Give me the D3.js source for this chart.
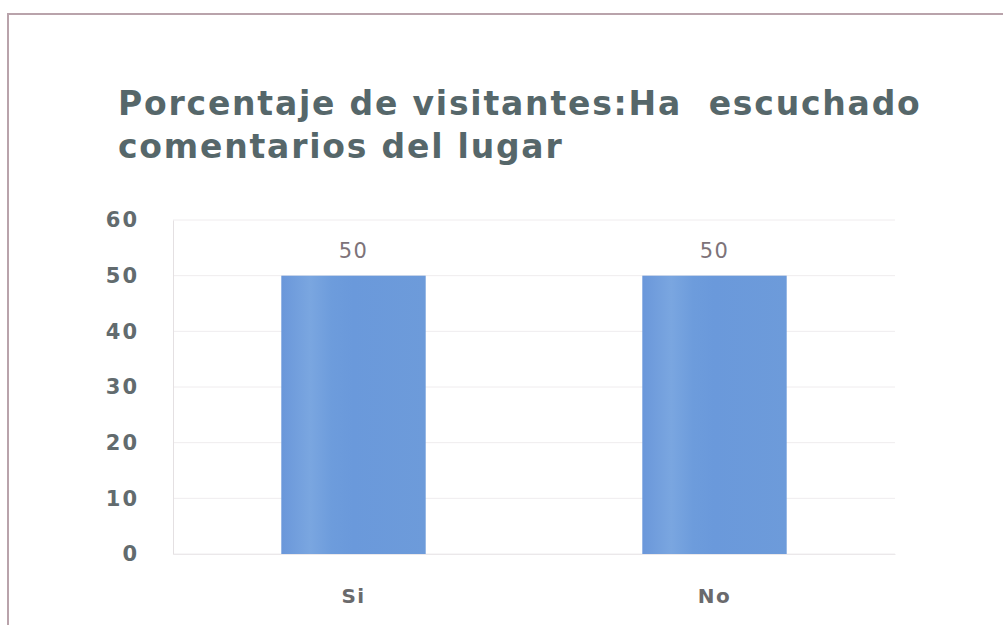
<!DOCTYPE html>
<html><head><meta charset="utf-8">
<script src="https://cdn.jsdelivr.net/npm/d3@7"></script>
<style>html,body{margin:0;padding:0;background:#fff;}svg{display:block;}</style>
</head><body>
<svg id="chart" width="1003" height="625"></svg>
<script>
const categories = ["Si", "No"];
const values = [50, 50];
const yTicks = [0, 10, 20, 30, 40, 50, 60];
const titleLines = ["Porcentaje de visitantes:Ha  escuchado", "comentarios del lugar"];

const svg = d3.select("#chart");
const W = 1003, H = 625;
const m = {left: 173, right: 108, top: 220, bottom: 71};
const FONT = "'DejaVu Sans', Verdana, sans-serif";

// frame
svg.append("path").attr("d", `M8,${H} L8,14 L${W},14`).attr("fill","none")
  .attr("stroke","#b9a3ab").attr("stroke-width",2);

// title
const title = svg.append("text").attr("x",118).attr("y",115)
  .attr("font-family",FONT).attr("font-weight","bold")
  .attr("font-size",33).attr("letter-spacing",1.8).attr("fill","#56676a");
titleLines.forEach((t,i)=>{
  title.append("tspan").attr("x",118).attr("dy", i===0?0:43).style("white-space","pre").text(t);
});

const x = d3.scaleBand().domain(categories).range([m.left, W - m.right]).paddingInner(0.6).paddingOuter(0.3);
const y = d3.scaleLinear().domain([0, 60]).range([H - m.bottom, m.top]);

// gridlines
svg.append("g").selectAll("line").data(yTicks).join("line")
  .attr("x1", m.left).attr("x2", W - m.right)
  .attr("y1", d=>y(d)).attr("y2", d=>y(d))
  .attr("stroke","#efecee").attr("stroke-width",1);

// y axis
const yAxis = svg.append("g").attr("transform",`translate(${m.left},0)`)
  .call(d3.axisLeft(y).tickValues(yTicks).tickSize(0).tickPadding(34));
yAxis.select(".domain").attr("stroke","#e4e0e2");
yAxis.selectAll("text").attr("font-family",FONT)
  .attr("font-weight","bold").attr("font-size",21).attr("letter-spacing",2).attr("fill","#626b6e");

// bars
const grad = svg.append("defs").append("linearGradient").attr("id","bg");
[["0%","#6a97da"],["20%","#7aa6e0"],["35%","#6d9cdc"],["50%","#6a99db"],["100%","#6d9bda"]]
  .forEach(s=>grad.append("stop").attr("offset",s[0]).attr("stop-color",s[1]));
svg.append("g").selectAll("rect").data(values).join("rect")
  .attr("x",(d,i)=>x(categories[i])).attr("width",x.bandwidth())
  .attr("y",d=>y(d)).attr("height",d=>y(0)-y(d)).attr("fill","url(#bg)");

// data labels
svg.append("g").selectAll("text").data(values).join("text")
  .attr("x",(d,i)=>x(categories[i])+x.bandwidth()/2).attr("y",d=>y(d)-18)
  .attr("text-anchor","middle").attr("font-family",FONT)
  .attr("font-size",21).attr("letter-spacing",1.5).attr("fill","#7d7379").text(d=>d);

// x axis labels
const xAxis = svg.append("g").attr("transform",`translate(0,${y(0)})`)
  .call(d3.axisBottom(x).tickSize(0).tickPadding(35));
xAxis.select(".domain").attr("stroke","#ebe8ea");
xAxis.selectAll("text").attr("font-family",FONT)
  .attr("font-weight","bold").attr("font-size",20).attr("letter-spacing",1.5).attr("fill","#6a6a6c");
</script>
</body></html>
